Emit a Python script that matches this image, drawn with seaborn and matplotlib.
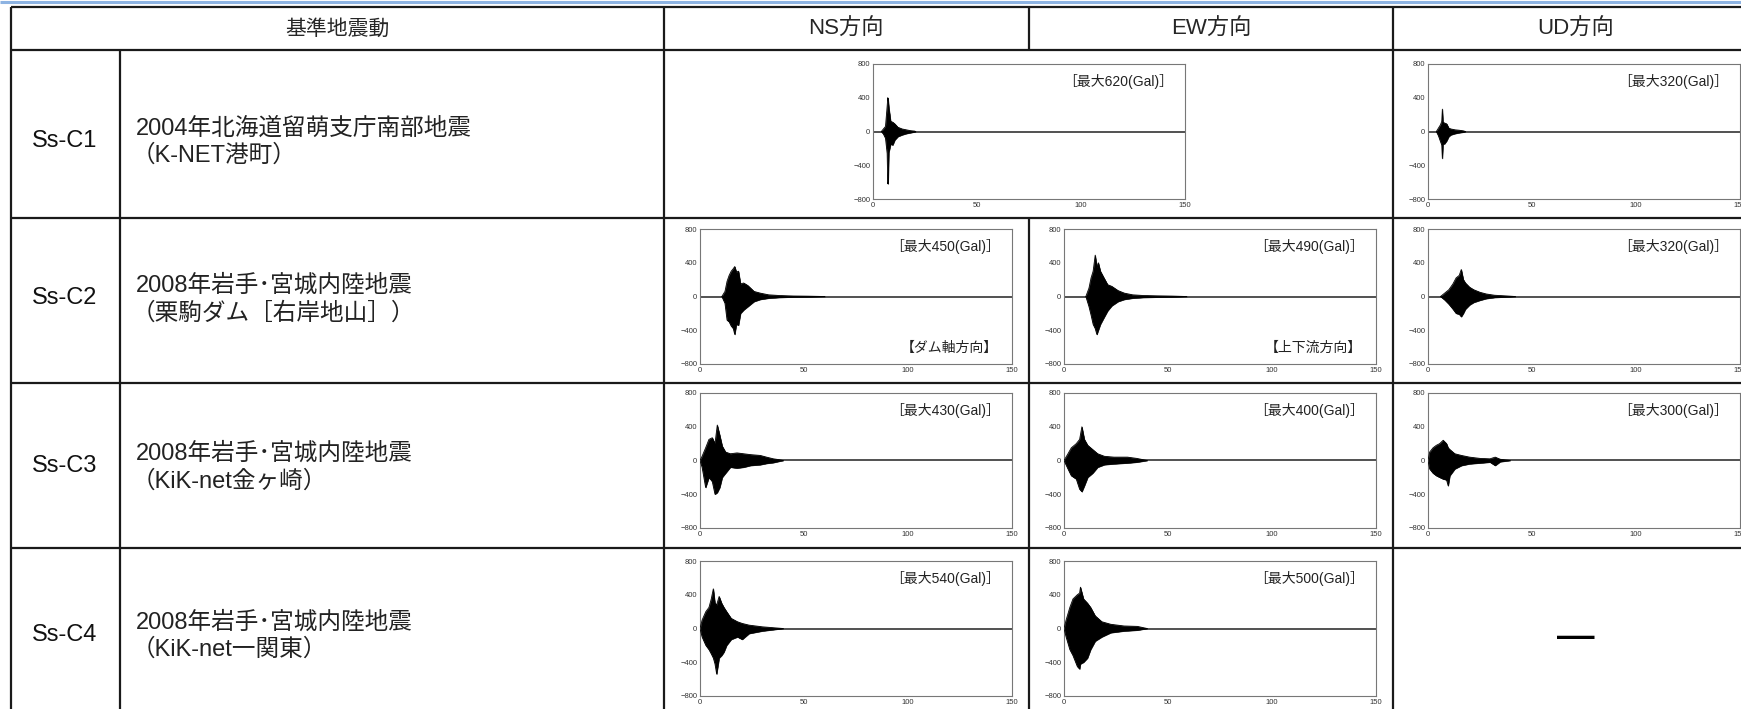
import matplotlib
matplotlib.use("Agg")
import matplotlib.pyplot as plt
import seaborn as sns

W, H = 1741, 709

# table text
header_left = "基準地震動"
header_dirs = ["NS方向", "EW方向", "UD方向"]
case_ids = ["Ss-C1", "Ss-C2", "Ss-C3", "Ss-C4"]
case_names = ["2004年北海道留萌支庁南部地震", "2008年岩手･宮城内陸地震",
              "2008年岩手･宮城内陸地震", "2008年岩手･宮城内陸地震"]
case_sites = ["（K-NET港町）", "（栗駒ダム［右岸地山］）", "（KiK-net金ヶ崎）", "（KiK-net一関東）"]

# peak accelerations (Gal)
peak_c1_h, peak_c1_ud = 620, 320
peak_c2 = [450, 490, 320]
peak_c3 = [430, 400, 300]
peak_c4 = [540, 500]
note_c2 = ["【ダム軸方向】", "【上下流方向】"]

# waveform envelopes: time (s), upper, lower (Gal)
c1_h_t = [4, 5, 6, 6.8, 7.1, 7.3, 7.6, 8.5, 9.5, 10.5, 12, 14, 16, 18, 20, 20.5]
c1_h_up = [0, 30, 60, 300, 400, 380, 290, 120, 110, 90, 50, 30, 20, 10, 5, 0]
c1_h_lo = [0, -30, -80, -260, -620, -600, -250, -150, -160, -100, -60, -40, -25, -15, -5, 0]

c1_ud_t = [4, 5, 6, 6.6, 6.9, 7.2, 8, 9, 10, 11, 13, 15, 17, 18]
c1_ud_up = [0, 40, 80, 120, 265, 110, 100, 90, 40, 30, 20, 15, 8, 0]
c1_ud_lo = [0, -50, -120, -160, -320, -150, -145, -110, -60, -40, -25, -15, -8, 0]

c2_ns_t = [10.5, 12, 13, 14, 15, 16, 16.7, 17.5, 18.5, 19.5, 21, 23, 26, 29, 33, 38, 45, 52, 60]
c2_ns_up = [0, 60, 180, 250, 300, 330, 355, 290, 300, 150, 160, 130, 60, 40, 20, 12, 6, 4, 0]
c2_ns_lo = [0, -80, -280, -300, -350, -380, -450, -330, -340, -200, -160, -120, -60, -35, -20, -12, -6, -4, 0]

c2_ew_t = [10.5, 12, 13, 14, 15, 15.8, 16.5, 17.5, 19, 21, 23, 26, 29, 33, 38, 45, 52, 59]
c2_ew_up = [0, 100, 220, 300, 490, 350, 400, 300, 230, 140, 120, 70, 40, 20, 12, 8, 5, 0]
c2_ew_lo = [0, -120, -220, -330, -380, -450, -400, -330, -260, -170, -110, -60, -35, -20, -12, -8, -5, 0]

c2_ud_t = [6, 8, 10, 12, 13.5, 15, 16, 17, 18, 20, 22, 25, 28, 32, 37, 42]
c2_ud_up = [0, 40, 80, 150, 220, 250, 320, 200, 160, 110, 80, 50, 30, 15, 8, 0]
c2_ud_lo = [0, -40, -90, -150, -200, -210, -240, -200, -150, -100, -70, -45, -25, -12, -6, 0]

c3_ns_t = [0, 1, 2.7, 4.3, 5.9, 7.2, 8.3, 9.5, 10.7, 12.3, 14.6, 17.8, 21, 24.2, 29, 32, 35.3, 38, 40]
c3_ns_up = [0, 50, 150, 250, 270, 200, 420, 300, 170, 100, 80, 90, 80, 70, 60, 40, 20, 10, 0]
c3_ns_lo = [0, -80, -320, -200, -250, -400, -380, -320, -200, -150, -80, -90, -80, -60, -50, -35, -25, -10, 0]

c3_ew_t = [0, 1.9, 3.5, 5.9, 7.5, 8.6, 9.8, 11.4, 13.8, 16.2, 19.4, 24, 30.5, 35, 40]
c3_ew_up = [0, 80, 150, 200, 250, 400, 250, 180, 130, 80, 50, 40, 40, 25, 0]
c3_ew_lo = [0, -100, -180, -220, -340, -370, -300, -200, -150, -80, -50, -40, -30, -20, 0]

c3_ud_t = [0, 0.8, 2.4, 4, 5.6, 7.3, 8.9, 9.7, 10.5, 12.9, 16.1, 20, 25, 29.8, 32.3, 34.7, 39.5]
c3_ud_up = [0, 100, 150, 180, 200, 240, 200, 150, 130, 80, 60, 40, 25, 20, 40, 15, 0]
c3_ud_lo = [0, -100, -150, -180, -200, -220, -230, -300, -180, -100, -60, -40, -30, -20, -60, -15, 0]

c4_ns_t = [0, 1, 2.8, 4.3, 5.4, 6.4, 7.2, 8, 9.2, 10.4, 11.5, 12.8, 15, 18, 20.3, 23.6, 30, 35, 40]
c4_ns_up = [0, 100, 200, 250, 350, 470, 300, 280, 380, 300, 250, 200, 120, 80, 60, 40, 20, 10, 0]
c4_ns_lo = [0, -100, -200, -250, -300, -350, -420, -540, -350, -320, -280, -200, -130, -100, -130, -60, -30, -15, 0]

c4_ew_t = [0, 1, 2.8, 4.3, 6.4, 7.5, 7.9, 9.4, 11.3, 12.8, 15, 18.2, 22.5, 28.9, 35.3, 40]
c4_ew_up = [0, 100, 250, 350, 400, 420, 490, 350, 300, 250, 150, 80, 50, 30, 25, 0]
c4_ew_lo = [0, -100, -250, -320, -450, -480, -420, -400, -350, -250, -150, -100, -50, -30, -20, 0]

sns.set_style("white")
plt.rcParams["font.family"] = ["Liberation Sans", "Noto Sans CJK JP", "DejaVu Sans"]

fig = plt.figure(figsize=(W / 100, H / 100), dpi=100)
fig.patch.set_facecolor("white")

# overlay axes in pixel coordinates for the table grid and text
tab = fig.add_axes([0, 0, 1, 1], zorder=0)
tab.set_xlim(0, W)
tab.set_ylim(H, 0)
tab.axis("off")

line_kw = dict(color="#1a1a1a", lw=1.6)
tab.hlines(2, 0, W, color="#8db3e2", lw=2.2)
for y in [7, 50, 218, 383, 548]:
    tab.hlines(y, 11, 1760, **line_kw)
tab.vlines(11, 7, 720, **line_kw)
tab.vlines(120, 50, 720, **line_kw)
tab.vlines(664, 7, 720, **line_kw)
tab.vlines(1029, 7, 50, **line_kw)
tab.vlines(1029, 218, 720, **line_kw)
tab.vlines(1393, 7, 720, **line_kw)

tab.text(337, 29, header_left, ha="center", va="center", fontsize=15)
for xc, lab in zip([846, 1211, 1576], header_dirs):
    tab.text(xc, 29, lab, ha="center", va="center", fontsize=16)

row_y = [141, 298, 466, 635]
for yc, cid, name, site in zip(row_y, case_ids, case_names, case_sites):
    tab.text(65, yc, cid, ha="center", va="center", fontsize=17, color="#111")
    tab.text(136, yc - 12, name, ha="left", va="center", fontsize=17, color="#222")
    tab.text(132, yc + 15, site, ha="left", va="center", fontsize=17, color="#222")

# dash for missing UD record of Ss-C4
tab.text(1576, 637, "—", ha="center", va="center", fontsize=30, color="black",
         family="DejaVu Sans")

PW, PH = 312, 135


def panel(left, top, t, up, lo, peak, note=None):
    ax = fig.add_axes([left / W, 1 - (top + PH) / H, PW / W, PH / H], zorder=2)
    ax.set_facecolor("white")
    ax.axhline(0, color="#333333", lw=1.2, zorder=1)
    ax.fill_between(t, lo, up, color="black", lw=0.4, zorder=2)
    sns.lineplot(x=t, y=up, ax=ax, color="black", lw=0.6, zorder=3)
    sns.lineplot(x=t, y=lo, ax=ax, color="black", lw=0.6, zorder=3)
    ax.set_xlim(0, 150)
    ax.set_ylim(-800, 800)
    ax.set_xticks([0, 50, 100, 150])
    ax.set_yticks([-800, -400, 0, 400, 800])
    ax.set_xlabel("")
    ax.set_ylabel("")
    ax.tick_params(direction="in", length=3, width=0.6, labelsize=5.5, pad=2,
                   colors="#333333")
    for s in ax.spines.values():
        s.set_color("#777777")
        s.set_linewidth(0.8)
    ax.text(0.962, 0.874, f"［最大{peak}(Gal)］", transform=ax.transAxes,
            ha="right", va="center", fontsize=10, color="#222")
    if note:
        ax.text(0.955, 0.12, note, transform=ax.transAxes,
                ha="right", va="center", fontsize=10, color="#222")
    return ax


panel(873, 64, c1_h_t, c1_h_up, c1_h_lo, peak_c1_h)
panel(1428, 64, c1_ud_t, c1_ud_up, c1_ud_lo, peak_c1_ud)

panel(700, 229, c2_ns_t, c2_ns_up, c2_ns_lo, peak_c2[0], note_c2[0])
panel(1064, 229, c2_ew_t, c2_ew_up, c2_ew_lo, peak_c2[1], note_c2[1])
panel(1428, 229, c2_ud_t, c2_ud_up, c2_ud_lo, peak_c2[2])

panel(700, 393, c3_ns_t, c3_ns_up, c3_ns_lo, peak_c3[0])
panel(1064, 393, c3_ew_t, c3_ew_up, c3_ew_lo, peak_c3[1])
panel(1428, 393, c3_ud_t, c3_ud_up, c3_ud_lo, peak_c3[2])

panel(700, 561, c4_ns_t, c4_ns_up, c4_ns_lo, peak_c4[0])
panel(1064, 561, c4_ew_t, c4_ew_up, c4_ew_lo, peak_c4[1])

fig.savefig("out.png", dpi=100)
